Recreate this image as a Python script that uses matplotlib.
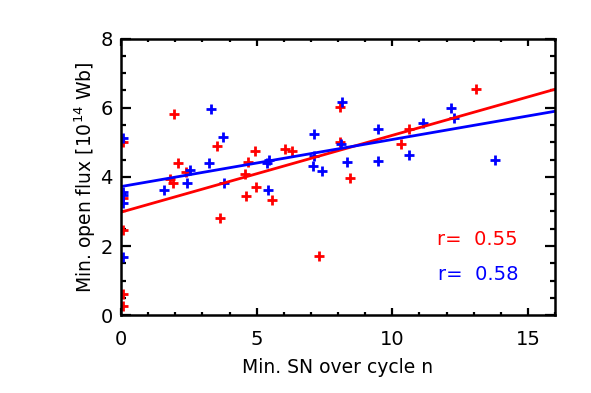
import matplotlib
matplotlib.use("Agg")
import matplotlib.pyplot as plt
import numpy as np
from matplotlib.ticker import MultipleLocator

# Red series
red_x = [0.05, 0.05, 0.05, 0.05, 0.05,
         1.95, 3.55, 4.93, 4.68, 2.08, 2.38, 4.57, 1.80, 1.92, 3.65,
         4.59, 4.97, 5.55, 6.03, 6.30, 8.07, 8.07, 7.31, 8.44, 10.34,
         10.62, 13.09]
red_y = [5.02, 3.38, 2.47, 0.62, 0.28,
         5.82, 4.89, 4.74, 4.43, 4.39, 4.15, 4.08, 3.93, 3.83, 2.80,
         3.45, 3.72, 3.33, 4.81, 4.76, 6.01, 5.01, 1.71, 3.98, 4.94,
         5.37, 6.53]

# Blue series
blue_x = [0.05, 0.05, 0.05, 0.05, 0.05,
          3.30, 3.77, 3.24, 2.54, 5.37, 5.45, 1.59, 2.42, 3.80, 5.43,
          8.14, 7.13, 8.11, 9.48, 10.63, 9.49, 8.32, 7.09, 7.42, 12.17,
          12.26, 11.12, 13.80, 7.10]
blue_y = [5.11, 3.57, 3.48, 3.25, 1.69,
          5.95, 5.16, 4.41, 4.20, 4.39, 4.50, 3.62, 3.81, 3.81, 3.62,
          6.17, 5.24, 4.95, 5.37, 4.63, 4.46, 4.44, 4.31, 4.18, 6.00,
          5.69, 5.57, 4.49, 4.60]

# Fit lines (intercept, slope)
red_fit = (2.98, 0.222)
blue_fit = (3.72, 0.136)
red_r = "r=  0.55"
blue_r = "r=  0.58"

fig = plt.figure(figsize=(5.91, 3.93), dpi=100)
ax = fig.add_axes([0.205, 0.198, 0.734, 0.704])

ax.plot(red_x, red_y, linestyle="none", marker="+", color="red",
        markersize=7.5, markeredgewidth=2.0)
ax.plot(blue_x, blue_y, linestyle="none", marker="+", color="blue",
        markersize=7.5, markeredgewidth=2.0)

xx = np.array([0.0, 16.0])
ax.plot(xx, red_fit[0] + red_fit[1] * xx, color="red", lw=2.0)
ax.plot(xx, blue_fit[0] + blue_fit[1] * xx, color="blue", lw=2.0)

ax.set_xlim(0, 16)
ax.set_ylim(0, 8)
ax.xaxis.set_major_locator(MultipleLocator(5))
ax.xaxis.set_minor_locator(MultipleLocator(1))
ax.yaxis.set_major_locator(MultipleLocator(2))
ax.yaxis.set_minor_locator(MultipleLocator(0.5))

for s in ax.spines.values():
    s.set_linewidth(1.8)

ax.tick_params(which="both", direction="in", top=True, right=True,
               width=1.6, labelsize=14, colors="black")
ax.tick_params(axis="x", which="major", length=5, pad=11)
ax.tick_params(axis="x", which="minor", length=2.5)
ax.tick_params(axis="y", which="major", length=7, pad=6)
ax.tick_params(axis="y", which="minor", length=3.5)

ax.set_xlabel("Min. SN over cycle n", fontsize=13.5, labelpad=6)
ax.set_ylabel(r"Min. open flux [10$^{14}$ Wb]", fontsize=13.5, labelpad=2)

ax.text(0.915, 0.273, red_r, transform=ax.transAxes, color="red",
        fontsize=14, ha="right", va="center")
ax.text(0.915, 0.147, blue_r, transform=ax.transAxes, color="blue",
        fontsize=14, ha="right", va="center")

fig.savefig("out.png", dpi=100)
